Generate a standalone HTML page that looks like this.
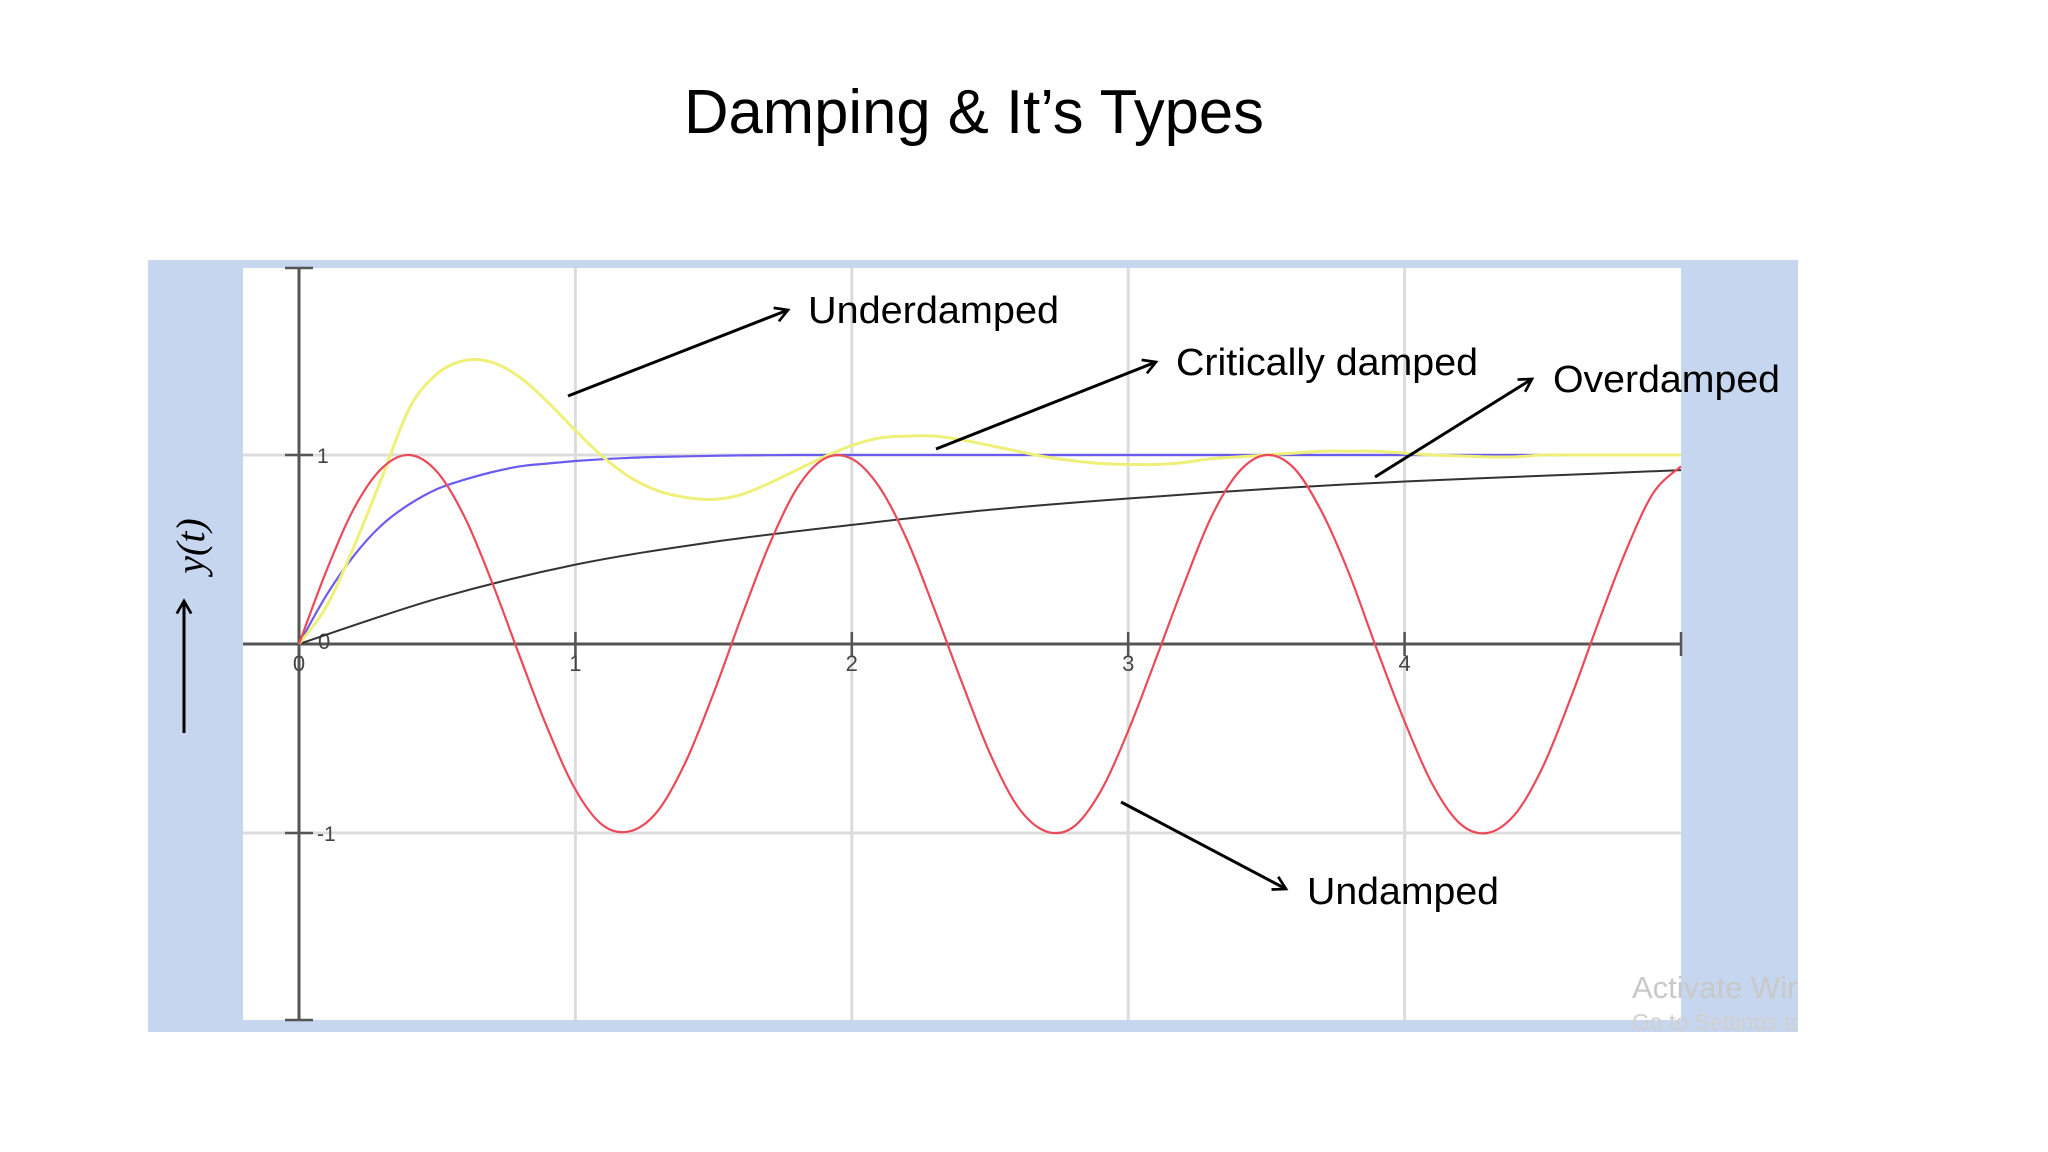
<!DOCTYPE html>
<html>
<head>
<meta charset="utf-8">
<style>
html,body{margin:0;padding:0;background:#fff;}
svg{display:block;}
text{font-family:"Liberation Sans",sans-serif;}
</style>
</head>
<body>
<svg id="chart" width="2048" height="1152" viewBox="0 0 2048 1152" xmlns="http://www.w3.org/2000/svg">
  <defs>
    <marker id="ah" viewBox="0 0 20 20" refX="17" refY="10" markerWidth="18" markerHeight="18" orient="auto" markerUnits="userSpaceOnUse">
      <path d="M3,2 L17,10 L3,18" fill="none" stroke="#000" stroke-width="3"/>
    </marker>
    <clipPath id="panelClip"><rect x="148" y="260" width="1650" height="772"/></clipPath>
  </defs>
  <text x="684" y="133" font-size="62" textLength="580" lengthAdjust="spacingAndGlyphs" fill="#000">Damping &amp; It’s Types</text>
  <rect x="148" y="260" width="1650" height="772" fill="#c5d6ee"/>
  <rect x="243" y="268" width="1438" height="752" fill="#fff"/>
  <g id="grid"></g>
  <g id="axes"></g>
  <g id="series"></g>
  <g id="annotations">
    <line x1="568" y1="396" x2="788" y2="310" stroke="#000" stroke-width="3" marker-end="url(#ah)"/>
    <text x="808" y="323" font-size="38" textLength="251" lengthAdjust="spacingAndGlyphs">Underdamped</text>
    <line x1="936" y1="449" x2="1156" y2="362" stroke="#000" stroke-width="3" marker-end="url(#ah)"/>
    <text x="1176" y="375" font-size="38" textLength="302" lengthAdjust="spacingAndGlyphs">Critically damped</text>
    <line x1="1375" y1="477" x2="1532" y2="379" stroke="#000" stroke-width="3" marker-end="url(#ah)"/>
    <text x="1553" y="392" font-size="38" textLength="227" lengthAdjust="spacingAndGlyphs">Overdamped</text>
    <line x1="1121" y1="802" x2="1286" y2="889" stroke="#000" stroke-width="3" marker-end="url(#ah)"/>
    <text x="1307" y="904" font-size="38" textLength="192" lengthAdjust="spacingAndGlyphs">Undamped</text>
    <line x1="184" y1="733" x2="184" y2="601" stroke="#000" stroke-width="3" marker-end="url(#ah)"/>
    <text transform="translate(204,546) rotate(-90)" text-anchor="middle" font-size="40" font-style="italic" style="font-family:'Liberation Serif',serif">y(t)</text>
    <g clip-path="url(#panelClip)">
      <text x="1632" y="998" font-size="31" fill="#c9c9c9">Activate Windows</text>
      <text x="1632" y="1030" font-size="23" fill="#d0d0d0">Go to Settings to activate</text>
    </g>
  </g>
</svg>
<script>
// ---- data ----
const tSteps = [0,0.1,0.2,0.3,0.4,0.5,0.6,0.7,0.8,0.9,1.0,1.1,1.2,1.3,1.4,1.5,1.6,1.7,1.8,1.9,2.0,2.1,2.2,2.3,2.4,2.5,2.6,2.7,2.8,2.9,3.0,3.1,3.2,3.3,3.4,3.5,3.6,3.7,3.8,3.9,4.0,4.1,4.2,4.3,4.4,4.5,4.6,4.7,4.8,4.9,5.0];
const undamped = [0,0.39,0.72,0.93,1.0,0.91,0.67,0.32,-0.07,-0.45,-0.77,-0.96,-0.99,-0.88,-0.62,-0.26,0.14,0.52,0.82,0.98,0.98,0.83,0.55,0.18,-0.21,-0.58,-0.86,-0.99,-0.97,-0.78,-0.46,-0.08,0.31,0.67,0.91,1.0,0.93,0.70,0.37,-0.03,-0.41,-0.74,-0.95,-1.0,-0.90,-0.65,-0.29,0.11,0.49,0.80,0.94];
const underdamped = [0,0.20,0.52,0.88,1.25,1.43,1.50,1.49,1.41,1.28,1.13,0.99,0.88,0.81,0.775,0.765,0.79,0.85,0.92,0.99,1.05,1.09,1.10,1.10,1.08,1.05,1.02,0.99,0.97,0.955,0.95,0.95,0.96,0.98,0.99,1.0,1.01,1.02,1.02,1.02,1.01,1.0,0.995,0.99,0.99,1.0,1.0,1.0,1.0,1.0,1.0];
const critical = [0,0.26,0.47,0.63,0.74,0.82,0.87,0.91,0.94,0.955,0.968,0.978,0.985,0.99,0.993,0.996,0.998,0.999,1,1,1,1,1,1,1,1,1,1,1,1,1,1,1,1,1,1,1,1,1,1,1,1,1,1,1,1,1,1,1,1,1];
const tOver = [0,0.5,1.0,1.5,2.0,2.5,3.0,3.5,4.0,4.5,5.0];
const overdamped = [0,0.24,0.42,0.54,0.63,0.71,0.77,0.82,0.86,0.89,0.92];
const xTicks = [1,2,3,4,5];
const xTickLabels = ["1","2","3","4",""];
const yGrid = [1,-1];
const yTickLabels = ["1","-1"];

// ---- axis functions ----
const X0 = 299, XU = 276.4, Y0 = 644, YU = 189;
const xs = t => X0 + t*XU;
const ys = v => Y0 - v*YU;
const NS = "http://www.w3.org/2000/svg";
function mk(tag, attrs, parent){const e=document.createElementNS(NS,tag);for(const k in attrs)e.setAttribute(k,attrs[k]);parent.appendChild(e);return e;}
function smooth(tx, vy){
  const p = tx.map((t,i)=>[xs(t),ys(vy[i])]);
  let d = "M"+p[0][0].toFixed(1)+","+p[0][1].toFixed(1);
  for(let i=0;i<p.length-1;i++){
    const p0=p[i-1]||p[i], p1=p[i], p2=p[i+1], p3=p[i+2]||p[i+1];
    const c1=[p1[0]+(p2[0]-p0[0])/6, p1[1]+(p2[1]-p0[1])/6];
    const c2=[p2[0]-(p3[0]-p1[0])/6, p2[1]-(p3[1]-p1[1])/6];
    d+=" C"+c1[0].toFixed(1)+","+c1[1].toFixed(1)+" "+c2[0].toFixed(1)+","+c2[1].toFixed(1)+" "+p2[0].toFixed(1)+","+p2[1].toFixed(1);
  }
  return d;
}
const grid=document.getElementById('grid'), axes=document.getElementById('axes'), series=document.getElementById('series');
xTicks.forEach((t,i)=>{
  if(t<5){
    const g=mk('line',{x1:xs(t),x2:xs(t),y1:268,y2:1020,stroke:'#dcdcdc','stroke-width':3},grid);
    
    
  }
  const tk=mk('line',{x1:xs(t),x2:xs(t),y1:Y0-12,y2:Y0+12,stroke:'#555','stroke-width':2.5},axes);
  
  
  const lb=mk('text',{x:xs(t),y:Y0+27,'font-size':22,'text-anchor':'middle',fill:'#444'},axes);
  lb.textContent=xTickLabels[i];
  
  
});
yGrid.forEach((v,i)=>{
  const g=mk('line',{x1:243,x2:1681,y1:ys(v),y2:ys(v),stroke:'#dcdcdc','stroke-width':3},grid);
  
  
  const tk=mk('line',{x1:X0-14,x2:X0+14,y1:ys(v),y2:ys(v),stroke:'#555','stroke-width':2.5},axes);
  
  
  const lb=mk('text',{x:X0+18,y:ys(v)+8,'font-size':21,fill:'#444'},axes);
  lb.textContent=yTickLabels[i];
  
  
});
const xa=mk('line',{x1:243,x2:1681,y1:Y0,y2:Y0,stroke:'#555','stroke-width':3},axes);


const ya=mk('line',{x1:X0,x2:X0,y1:268,y2:1020,stroke:'#555','stroke-width':3},axes);


[268,1020].forEach(y=>{
  const c=mk('line',{x1:X0-14,x2:X0+14,y1:y,y2:y,stroke:'#555','stroke-width':2.5},axes);
  
  
});
const z1=mk('text',{x:X0,y:Y0+27,'font-size':22,'text-anchor':'middle',fill:'#444'},axes);
z1.textContent='0';


const z2=mk('text',{x:X0+19,y:Y0+5,'font-size':22,fill:'#444'},axes);
z2.textContent='0';



const s1=mk('path',{d:smooth(tOver,overdamped),fill:'none',stroke:'#333','stroke-width':2},series);


const s2=mk('path',{d:smooth(tSteps,critical),fill:'none',stroke:'#6a5cf0','stroke-width':2.2},series);


const s3=mk('path',{d:smooth(tSteps,underdamped),fill:'none',stroke:'#eef07a','stroke-width':3},series);


const s4=mk('path',{d:smooth(tSteps,undamped),fill:'none',stroke:'#ea4a5a','stroke-width':2.2},series);


</script>
</body>
</html>
